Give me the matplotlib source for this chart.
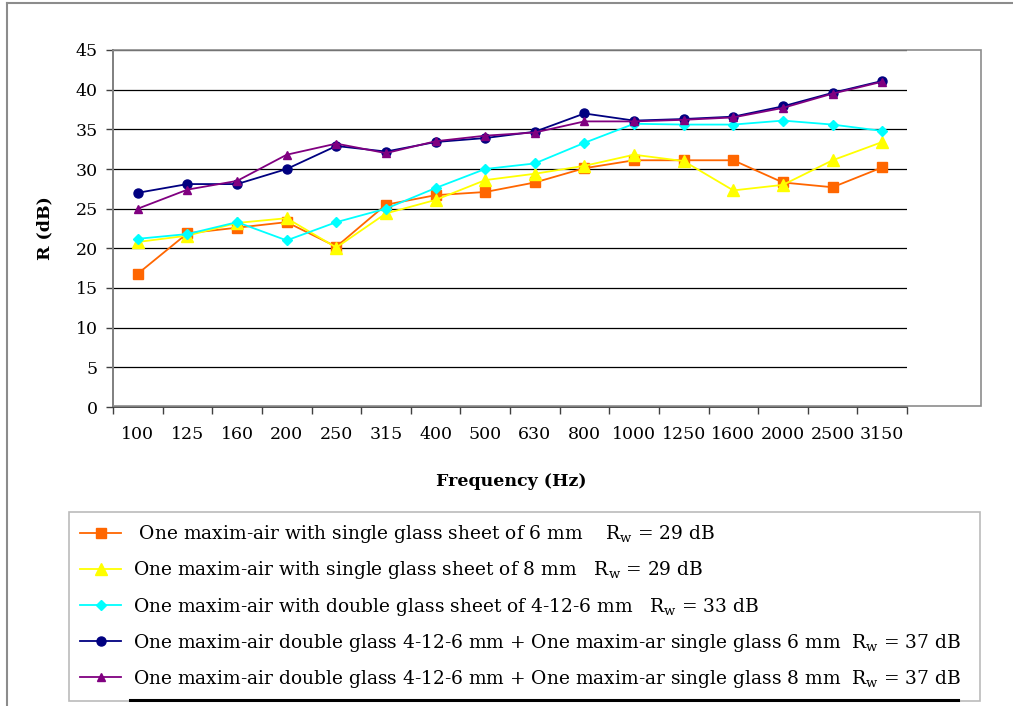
import matplotlib
matplotlib.use("Agg")
import matplotlib.pyplot as plt
from matplotlib.lines import Line2D
from matplotlib.patches import Rectangle
import numpy as np

plt.rcParams['font.family'] = ['DejaVu Serif']
plt.rcParams['mathtext.fontset'] = 'custom'
plt.rcParams['mathtext.rm'] = 'DejaVu Serif'
plt.rcParams['mathtext.it'] = 'DejaVu Serif'

frequencies = ["100", "125", "160", "200", "250", "315", "400", "500", "630",
               "800", "1000", "1250", "1600", "2000", "2500", "3150"]

single_6mm = [16.8, 21.9, 22.6, 23.3, 20.2, 25.5, 26.7, 27.1, 28.3, 30.1,
              31.1, 31.1, 31.1, 28.3, 27.7, 30.2]
single_8mm = [20.8, 21.6, 23.2, 23.8, 20.1, 24.4, 26.1, 28.6, 29.4, 30.4,
              31.8, 31.0, 27.3, 28.0, 31.1, 33.4]
double_4126 = [21.2, 21.8, 23.3, 21.0, 23.3, 25.0, 27.6, 30.0, 30.7, 33.3,
               35.7, 35.6, 35.6, 36.1, 35.6, 34.8]
double_plus_6 = [27.0, 28.1, 28.1, 30.0, 32.9, 32.2, 33.4, 33.9, 34.7, 37.0,
                 36.1, 36.3, 36.6, 37.9, 39.6, 41.1]
double_plus_8 = [25.0, 27.4, 28.5, 31.8, 33.2, 32.0, 33.5, 34.2, 34.6, 36.0,
                 36.0, 36.2, 36.5, 37.7, 39.5, 41.0]

labels = [
    " One maxim-air with single glass sheet of 6 mm    R$_\\mathrm{w}$ = 29 dB",
    "One maxim-air with single glass sheet of 8 mm   R$_\\mathrm{w}$ = 29 dB",
    "One maxim-air with double glass sheet of 4-12-6 mm   R$_\\mathrm{w}$ = 33 dB",
    "One maxim-air double glass 4-12-6 mm + One maxim-ar single glass 6 mm  R$_\\mathrm{w}$ = 37 dB",
    "One maxim-air double glass 4-12-6 mm + One maxim-ar single glass 8 mm  R$_\\mathrm{w}$ = 37 dB",
]

W, H = 1013, 706
fig = plt.figure(figsize=(W / 100, H / 100), dpi=100)
fig.patch.set_facecolor('white')

# outer border (gray)
fig.add_artist(Line2D([7 / W, 7 / W], [0, 1 - 3 / H], transform=fig.transFigure,
                      color='#8c8c8c', lw=1.5))
fig.add_artist(Line2D([7 / W, 1], [1 - 3 / H, 1 - 3 / H], transform=fig.transFigure,
                      color='#8c8c8c', lw=1.5))

# plot area frame (gray)
fig.add_artist(Rectangle((113 / W, 1 - 406 / H), (981 - 113) / W, (406 - 50) / H,
                         transform=fig.transFigure, fill=False,
                         edgecolor='#8c8c8c', lw=1.2))

ax = fig.add_axes([113 / W, 1 - 407 / H, (907 - 113) / W, (407 - 50) / H])
ax.set_facecolor('none')

x = np.arange(len(frequencies))
ax.plot(x, single_6mm, color='#FF6600', lw=1.3, marker='s', ms=6.5, label=labels[0])
ax.plot(x, single_8mm, color='#FFFF00', lw=1.3, marker='^', ms=8.5, label=labels[1])
ax.plot(x, double_4126, color='#00FFFF', lw=1.3, marker='D', ms=5.5, label=labels[2])
ax.plot(x, double_plus_6, color='#000080', lw=1.3, marker='o', ms=6.5, label=labels[3])
ax.plot(x, double_plus_8, color='#800080', lw=1.3, marker='^', ms=5.5, label=labels[4])

ax.set_xlim(-0.5, len(frequencies) - 0.5)
ax.set_ylim(0, 45)
ax.set_yticks(np.arange(0, 46, 5))
ax.yaxis.grid(True, color='black', lw=0.9)
ax.set_axisbelow(True)

ax.set_xticks(x)
ax.set_xticklabels(frequencies, fontsize=12.5)
ax.set_xticks(np.arange(-0.5, len(frequencies), 1.0), minor=True)
ax.tick_params(axis='x', which='major', length=0, pad=14)
ax.tick_params(axis='x', which='minor', length=5, color='#404040', width=1)
ax.tick_params(axis='y', length=5, color='#404040', width=1, pad=6, labelsize=12.5)

for s in ['top', 'right']:
    ax.spines[s].set_visible(False)
ax.spines['left'].set_color('#404040')
ax.spines['bottom'].set_color('#404040')
ax.spines['left'].set_linewidth(1.3)
ax.spines['bottom'].set_linewidth(1.3)

ax.set_ylabel("R (dB)", fontsize=12.5, fontweight='bold', labelpad=16)
fig.text(511 / W, 1 - 481 / H, "Frequency (Hz)", fontsize=12.5, fontweight='bold',
         ha='center', va='center')

leg = fig.legend(loc='upper left',
                 bbox_to_anchor=(69 / W, 1 - 700 / H, (980 - 69) / W, (700 - 512) / H),
                 mode='expand', fontsize=13.45, frameon=True, fancybox=False,
                 edgecolor='#aaaaaa', borderaxespad=0, handlelength=2.2,
                 handletextpad=0.6, labelspacing=0.76, borderpad=0.6)
leg.get_frame().set_linewidth(1.2)
leg.set_zorder(5)

# underline beneath last legend entry
fig.add_artist(Line2D([130 / W, 958 / W], [1 - 700 / H, 1 - 700 / H],
                      transform=fig.transFigure, color='black', lw=2.2, zorder=10))

fig.savefig("out.png", dpi=100)
